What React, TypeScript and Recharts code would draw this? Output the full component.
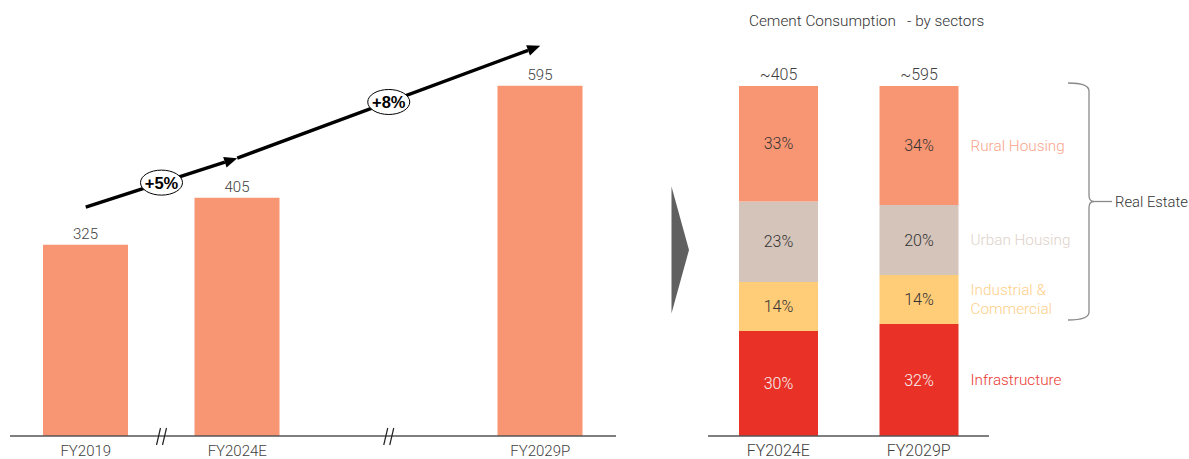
import React from "react";
import {
  BarChart,
  Bar,
  XAxis,
  YAxis,
  LabelList,
  ReferenceLine,
  ReferenceDot,
  ReferenceArea,
} from "recharts";

// ---------- data: left chart ----------
const leftCategories = ["FY2019", "FY2024E", "FY2029P"];
const leftPositions = [0, 2, 6];
const leftValues = [325, 405, 595];
const axisBreaks = [1, 4];
const growthLabels = ["+5%", "+8%"];
const growthLevels = [389, 472, 663];

// ---------- data: right chart ----------
const rightCategories = ["FY2024E", "FY2029P"];
const rightTotals = ["~405", "~595"];
const infraShare = [30, 32];
const industrialShare = [14, 14];
const urbanShare = [23, 20];
const ruralShare = [33, 34];
const sectorNames = ["Infrastructure", "Industrial &\nCommercial", "Urban Housing", "Rural Housing"];
const braceLabel = "Real Estate";
const rightTitle = "Cement Consumption   - by sectors";

const FONT = "Roboto, 'Noto Sans', sans-serif";
const TXT = "#404040";
const SALMON = "#F89674";
const URBAN = "#D5C4BA";
const INDUS = "#FFCC78";
const INFRA = "#EA3128";
const sectorColors = ["#EB3A33", "#FECF88", "#DED2CA", "#F9A58A"];

const leftData = leftCategories.map((c, i) => ({ name: c, pos: leftPositions[i], value: leftValues[i] }));
const rightData = rightCategories.map((c, i) => ({
  name: c,
  total: rightTotals[i],
  infra: infraShare[i],
  industrial: industrialShare[i],
  urban: urbanShare[i],
  rural: ruralShare[i],
}));

const arrowShape = (label: string) => (p: any) => {
  const { x1, y1, x2, y2 } = p;
  const ang = Math.atan2(y2 - y1, x2 - x1);
  const hl = 13;
  const hw = 5.5;
  const bx = x2 - hl * Math.cos(ang);
  const by = y2 - hl * Math.sin(ang);
  const px = -Math.sin(ang) * hw;
  const py = Math.cos(ang) * hw;
  const mx = (x1 + x2) / 2;
  const my = (y1 + y2) / 2;
  return (
    <g>
      <line x1={x1} y1={y1} x2={bx} y2={by} stroke="#000" strokeWidth={3.5} />
      <polygon points={`${x2},${y2} ${bx + px},${by + py} ${bx - px},${by - py}`} fill="#000" />
      <ellipse cx={mx} cy={my} rx={21} ry={12.5} fill="#fff" stroke="#000" strokeWidth={1} />
      <text
        x={mx}
        y={my + 0.5}
        textAnchor="middle"
        dominantBaseline="central"
        fontFamily="'Liberation Sans Narrow', 'Liberation Sans', Arial, sans-serif"
        fontWeight="bold"
        fontSize={16.5}
        fill="#000"
      >
        {label}
      </text>
    </g>
  );
};

const breakShape = (p: any) => {
  const { cx, cy } = p;
  return (
    <g stroke="#222" strokeWidth={1.2}>
      <line x1={cx - 5} y1={cy + 9} x2={cx - 1} y2={cy - 8} />
      <line x1={cx + 1} y1={cy + 9} x2={cx + 5} y2={cy - 8} />
    </g>
  );
};

const braceShape = (p: any) => {
  const { x, y, width, height } = p;
  const x0 = x + width + 79;
  const xv = x0 + 21;
  const xt = x0 + 26;
  const y0 = y - 3;
  const y1 = y + height - 4;
  const ym = (y0 + y1) / 2;
  const d = `M ${x0} ${y0} Q ${xv} ${y0} ${xv} ${y0 + 8} L ${xv} ${ym - 6} Q ${xv} ${ym} ${xt} ${ym} Q ${xv} ${ym} ${xv} ${ym + 6} L ${xv} ${y1 - 8} Q ${xv} ${y1} ${x0} ${y1}`;
  return (
    <g>
      <path d={d} fill="none" stroke="#8a8a8a" strokeWidth={1.3} />
      <line x1={xt} y1={ym} x2={xt + 18} y2={ym} stroke="#8a8a8a" strokeWidth={1.3} />
      <text x={xt + 21} y={ym} dominantBaseline="central" fontFamily={FONT} fontWeight={300} fontSize={14.8} fill="#333">
        {braceLabel}
      </text>
    </g>
  );
};

const sectorLabel = (sector: number) => (p: any) => {
  const { x, y, width, height, index } = p;
  if (index !== rightCategories.length - 1) return null;
  const lines = sectorNames[sector].split("\n");
  const cy = Number(y) + Number(height) / 2;
  const lh = 19;
  return (
    <text
      x={Number(x) + Number(width) + 12}
      y={cy - ((lines.length - 1) * lh) / 2}
      fontFamily={FONT}
      fontWeight={300}
      fontSize={15.3}
      fill={sectorColors[sector]}
      dominantBaseline="central"
    >
      {lines.map((l, i) => (
        <tspan key={i} x={Number(x) + Number(width) + 12} dy={i === 0 ? 0 : lh}>
          {l}
        </tspan>
      ))}
    </text>
  );
};

const pct = (v: any) => `${v}%`;

export default function App() {
  return (
    <div style={{ position: "absolute", left: 0, top: 0, width: 1189, height: 459, background: "#fff", fontFamily: FONT }}>
      <div style={{ position: "absolute", left: 0, top: 0 }}>
        <BarChart width={625} height={459} data={leftData} margin={{ top: 24, right: 9, bottom: 0, left: 10 }}>
          <XAxis
            type="number"
            dataKey="pos"
            domain={[-1, 7]}
            ticks={leftPositions}
            interval={0}
            tickFormatter={(v: number) => leftCategories[leftPositions.indexOf(v)] ?? ""}
            axisLine={{ stroke: "#555", strokeWidth: 1.5 }}
            tickLine={false}
            tickMargin={3}
            height={23}
            tick={{ fontSize: 15, fill: TXT, fontFamily: FONT, fontWeight: 300 }}
          />
          <YAxis hide domain={[0, 700]} />
          <Bar dataKey="value" fill={SALMON} barSize={85} isAnimationActive={false}>
            <LabelList dataKey="value" position="top" offset={6} fill={TXT} fontSize={15} fontFamily={FONT} fontWeight={300} />
          </Bar>
          {growthLabels.map((g, i) => (
            <ReferenceLine
              key={g}
              segment={[
                { x: leftPositions[i], y: growthLevels[i] },
                { x: leftPositions[i + 1], y: growthLevels[i + 1] },
              ]}
              shape={arrowShape(g)}
            />
          ))}
          {axisBreaks.map((b) => (
            <ReferenceDot key={b} x={b} y={0} shape={breakShape} />
          ))}
        </BarChart>
      </div>

      <svg style={{ position: "absolute", left: 0, top: 0 }} width={1189} height={459} pointerEvents="none">
        <polygon points="671.5,186.5 689,250 671.5,313.5" fill="#606060" />
      </svg>

      <div
        style={{
          position: "absolute",
          left: 749,
          top: 11,
          fontSize: 15.3,
          lineHeight: "20px",
          fontWeight: 300,
          color: "#333",
          whiteSpace: "pre",
          fontFamily: FONT,
        }}
      >
        {rightTitle}
      </div>

      <div style={{ position: "absolute", left: 620, top: 0 }}>
        <BarChart width={569} height={459} data={rightData} margin={{ top: 86, right: 200, bottom: 0, left: 88 }}>
          <XAxis
            dataKey="name"
            axisLine={{ stroke: "#555", strokeWidth: 1.5 }}
            tickLine={false}
            tickMargin={3}
            height={23}
            tick={{ fontSize: 16, fill: TXT, fontFamily: FONT, fontWeight: 300 }}
          />
          <YAxis hide domain={[0, 100]} />
          <Bar dataKey="infra" stackId="s" fill={INFRA} barSize={79} isAnimationActive={false}>
            <LabelList dataKey="infra" position="center" formatter={pct} fill="#f4f4f4" fontSize={16} fontFamily={FONT} fontWeight={300} />
            <LabelList dataKey="infra" content={sectorLabel(0)} />
          </Bar>
          <Bar dataKey="industrial" stackId="s" fill={INDUS} barSize={79} isAnimationActive={false}>
            <LabelList dataKey="industrial" position="center" formatter={pct} fill="#333" fontSize={16} fontFamily={FONT} fontWeight={300} />
            <LabelList dataKey="industrial" content={sectorLabel(1)} />
          </Bar>
          <Bar dataKey="urban" stackId="s" fill={URBAN} barSize={79} isAnimationActive={false}>
            <LabelList dataKey="urban" position="center" formatter={pct} fill="#333" fontSize={16} fontFamily={FONT} fontWeight={300} />
            <LabelList dataKey="urban" content={sectorLabel(2)} />
          </Bar>
          <Bar dataKey="rural" stackId="s" fill={SALMON} barSize={79} isAnimationActive={false}>
            <LabelList dataKey="rural" position="center" formatter={pct} fill="#333" fontSize={16} fontFamily={FONT} fontWeight={300} />
            <LabelList dataKey="rural" content={sectorLabel(3)} />
            <LabelList dataKey="total" position="top" offset={6} fill={TXT} fontSize={16} fontFamily={FONT} fontWeight={300} />
          </Bar>
          <ReferenceArea y1={infraShare[infraShare.length - 1]} y2={100} shape={braceShape} />
        </BarChart>
      </div>
    </div>
  );
}
